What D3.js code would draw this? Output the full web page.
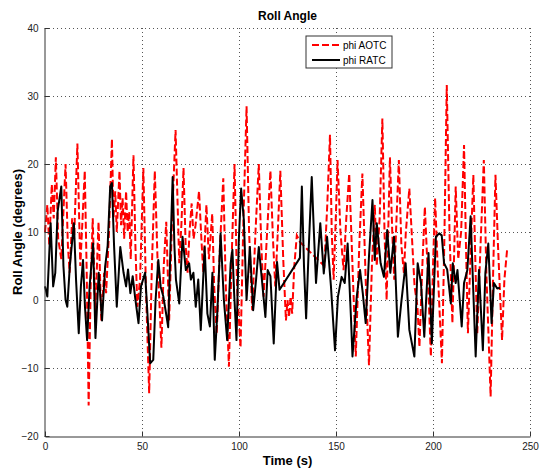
<!DOCTYPE html>
<html>
<head>
<meta charset="utf-8">
<script src="https://cdn.jsdelivr.net/npm/d3@7"></script>
<style>
  body { margin: 0; background: #fff; }
  svg { display: block; font-family: "Liberation Sans", Arial, sans-serif; }
</style>
</head>
<body>
<svg id="chart" width="540" height="472"></svg>
<script>
// phi AOTC (red dashed)
const aotcTime = [0,1.2,2.2,3.5,4.5,5.6,6.8,8.4,9.5,10.6,11.8,12.7,14,15,16.7,18.2,19.2,20.5,21.5,22.5,23.6,24.6,25.9,27.6,29,30.5,31.5,33,34.5,35.3,36.2,37,38.4,39.2,40,40.8,41.8,42.6,43.4,44.2,45.6,46.6,47.6,49,50.7,52,53.7,55,56.6,58,60,61.2,62.5,64,65.5,67.3,69.2,70.3,71.4,72.5,73.5,74.5,75.6,76.6,77.6,79.4,80.6,81.6,83.2,84.5,86.2,87.2,88.5,90.2,91.9,93.2,94.8,96.2,97.7,99,100.8,102.3,103.9,105.2,106.8,108.5,110.2,111.5,112.7,114.5,116.2,117.5,118.7,120,121.3,122.8,124.2,125,125.8,126.6,127.4,128.5,129.8,131.5,144,145.5,146.9,147.8,148.8,150,150.8,152.3,153.9,155.3,156.8,158.5,160.2,162,163.6,165.3,167,168.5,170,171,172.5,173.9,175,176.1,177.8,179,180,181.2,182.4,183.7,185,186,187.8,189,190.5,192,193,194.5,195.8,197.3,198.9,200,201.1,202.5,204.6,205.8,207.1,208.5,210,211,211.7,213,214.5,216,217,218,219.5,220.8,221.8,222.8,224.5,226.2,227.5,229.7,231,232.2,233.5,235.6,236.8,238.2];
const aotcPhi = [10,14,8,17,12,21,9,6,13,20,8,4,12,9,23,5,11,19,4,-15.5,3,12,-2,11.5,-3,4,1,10,23.7,12,16,10,19,11,15,9,16,10,13,6,21.3,8,-1,3,19.4,2,-13.7,4,19,6,-7,5,11.5,-3,12,25,5.4,11,19.4,8,4,10,14.2,9,11,16,9,4,14,6,12.7,2,-5,8,17.9,2,-9.8,6,20,2,-7,12,28.5,10,-1.5,10,20,8,0.5,10,19,9,2,10,19,6,-3,0,-2.5,0.5,-2,5,9.5,8.5,5,14,24.3,10,3,13,20.6,10,4.4,12,18.6,5,-8.3,8,18.6,3,-9.6,5,14,5,12,26.7,10,0,21,10,3,12,20.6,8,4,10,16.4,10,2,-1,-6.9,5,13.7,4,-8.3,5,15,4,-9.3,8,31.6,10,-3.4,8,16.7,6,10,22.8,8,-4.9,8,18.4,6,-5,8,20.6,4,-14.2,4,18.4,8,-5.9,3,7.4];

// phi RATC (black solid)
const ratcTime = [0,1.2,2.9,4.2,5.3,6.5,8.4,9.5,10.6,11.5,12.8,14.9,16,17.4,18.5,19.6,20.6,21.7,23,24.8,26,27.7,29.4,31,32.3,33.6,34.5,35.6,37,38.8,40.5,41.8,42.8,44,45.2,46.4,48.2,49.5,51.6,52.8,54.2,55.8,57,58.4,59.6,61,62.7,63.5,64.5,65.8,66.7,67.5,69.2,70.9,72.6,74.3,75.2,76.5,77.7,79,80.3,82.3,83.7,85,86.3,87.5,88.8,90.5,92.2,93.9,95.7,96.6,97.5,98.7,99.9,101.1,102.5,103.9,105.6,107.3,108.8,110.2,111.8,113.6,114.8,116.2,117.9,119.6,120.9,131.4,132.4,133.5,134.6,136,137.5,138.6,139.7,141.9,143.7,145.4,147.4,148.5,149.5,151,152.9,154.5,156,157.7,158.5,160.7,162.4,163.8,165.3,167,168.8,170,171,173,174.7,176.4,178,179.9,181.9,183.6,185.9,187.8,190.4,192.1,193.8,195.5,197.7,199.4,201.5,203.2,204.5,205.7,207.3,209.2,210.2,211.7,212.6,214.8,216,217.7,219.4,220.3,222,223.7,225.7,227,228.5,230.2,231.4,233.1,234.5];
const ratcPhi = [2,0.5,11.3,2,4,13,16.7,5,0,-1,5,11.3,3,-4.9,2,5.9,-1,-5.9,2,8.3,-5.6,4,-3,4.9,8,16.7,17.2,8,-1,7.8,4,2,4.5,1,3.5,0.5,-3.4,2,4,-2,-9.3,-8.8,0,5.9,2,0.5,-2.5,-4,6,18.1,8,3,-0.5,9.3,4.4,5.4,3,4,-1,3,-4.4,7.8,-2,-3.9,4,-8.8,-2,9.8,0,-5.9,5.4,7.4,1,-5.9,8.8,16.4,11.8,0,7.8,-1.5,3,7.8,3,-2.5,4.4,3.5,-6.4,5.6,1.5,6.2,16.7,5,-2.7,8,18.1,10,2.5,11.3,3.9,9.3,2,-3,-7.4,0.5,3.4,2.5,8.3,-2.5,-8.3,0.5,4.4,1,-3.4,6.4,14.7,5.9,11.3,5.4,3.4,10.3,4,9.3,-5.4,-0.5,5.4,-4.4,-8.3,5.4,2.5,-5.4,6.9,-6.4,9.3,9.8,9.5,5.4,4.5,-0.5,5.4,2.5,4.4,-3.9,2.5,4.4,12.3,5,-8.3,4.4,-7.4,4,8.3,-3.4,2.5,1.7,1.8];

const xTicks = [0, 50, 100, 150, 200, 250];
const yTicks = [-20, -10, 0, 10, 20, 30, 40];
const seriesNames = ['phi AOTC', 'phi RATC'];

const plotLeft = 45, plotRight = 530, plotTop = 28, plotBottom = 436;

const svg = d3.select('#chart');

const x = d3.scaleLinear().domain([0, 250]).range([plotLeft, plotRight]);
const y = d3.scaleLinear().domain([-20, 40]).range([plotBottom, plotTop]);

// grid (dotted)
const grid = svg.append('g')
  .attr('stroke', '#555')
  .attr('stroke-width', 1)
  .attr('stroke-dasharray', '1,3');
grid.selectAll('line.gx')
  .data(xTicks.slice(1))
  .enter().append('line')
  .attr('x1', d => Math.round(x(d)) + 0.5)
  .attr('x2', d => Math.round(x(d)) + 0.5)
  .attr('y1', plotTop).attr('y2', plotBottom);
grid.selectAll('line.gy')
  .data(yTicks.slice(1))
  .enter().append('line')
  .attr('y1', d => Math.round(y(d)) + 0.5)
  .attr('y2', d => Math.round(y(d)) + 0.5)
  .attr('x1', plotLeft).attr('x2', plotRight);

// data lines
const aotc = aotcTime.map((t, i) => [t, aotcPhi[i]]);
const ratc = ratcTime.map((t, i) => [t, ratcPhi[i]]);
const line = d3.line().x(d => x(d[0])).y(d => y(d[1]));

svg.append('path')
  .datum(aotc)
  .attr('fill', 'none')
  .attr('stroke', '#ff0000')
  .attr('stroke-width', 2)
  .attr('stroke-dasharray', '7,3')
  .attr('d', line);

svg.append('path')
  .datum(ratc)
  .attr('fill', 'none')
  .attr('stroke', '#000')
  .attr('stroke-width', 2)
  .attr('stroke-linejoin', 'round')
  .attr('d', line);

// axes
const xAxis = d3.axisBottom(x).tickValues(xTicks).tickSizeInner(-5).tickSizeOuter(0).tickPadding(6).tickFormat(d3.format('d'));
const yAxis = d3.axisLeft(y).tickValues(yTicks).tickSizeInner(-5).tickSizeOuter(0).tickPadding(6).tickFormat(d3.format('d'));

const gx = svg.append('g')
  .attr('transform', `translate(0,${plotBottom + 0.5})`)
  .call(xAxis);
const gy = svg.append('g')
  .attr('transform', `translate(${plotLeft - 0.5},0)`)
  .call(yAxis);

[gx, gy].forEach(g => {
  g.selectAll('path, line').attr('stroke', '#333');
  g.selectAll('text').attr('fill', '#222').style('font-size', '10px').style('font-family', '"Liberation Sans", Arial, sans-serif');
});

// title and labels
svg.append('text')
  .attr('x', (plotLeft + plotRight) / 2).attr('y', 20)
  .attr('text-anchor', 'middle')
  .style('font-size', '12px').style('font-weight', 'bold')
  .text('Roll Angle');

svg.append('text')
  .attr('x', (plotLeft + plotRight) / 2).attr('y', 465)
  .attr('text-anchor', 'middle')
  .style('font-size', '13px').style('font-weight', 'bold')
  .text('Time (s)');

svg.append('text')
  .attr('transform', `translate(22,${(plotTop + plotBottom) / 2}) rotate(-90)`)
  .attr('text-anchor', 'middle')
  .style('font-size', '13px').style('font-weight', 'bold')
  .text('Roll Angle (degrees)');

// legend
const lg = svg.append('g').attr('transform', 'translate(306,36)');
lg.append('rect')
  .attr('width', 86).attr('height', 32)
  .attr('fill', '#fff').attr('stroke', '#333');
const legendStyles = [
  { color: '#ff0000', dash: '7,3' },
  { color: '#000', dash: null }
];
seriesNames.forEach((name, i) => {
  const yy = 9 + i * 15;
  lg.append('line')
    .attr('x1', 6).attr('x2', 34)
    .attr('y1', yy).attr('y2', yy)
    .attr('stroke', legendStyles[i].color)
    .attr('stroke-width', 2)
    .attr('stroke-dasharray', legendStyles[i].dash);
  lg.append('text')
    .attr('x', 37).attr('y', yy + 3.5)
    .style('font-size', '10px')
    .text(name);
});
</script>
</body>
</html>
